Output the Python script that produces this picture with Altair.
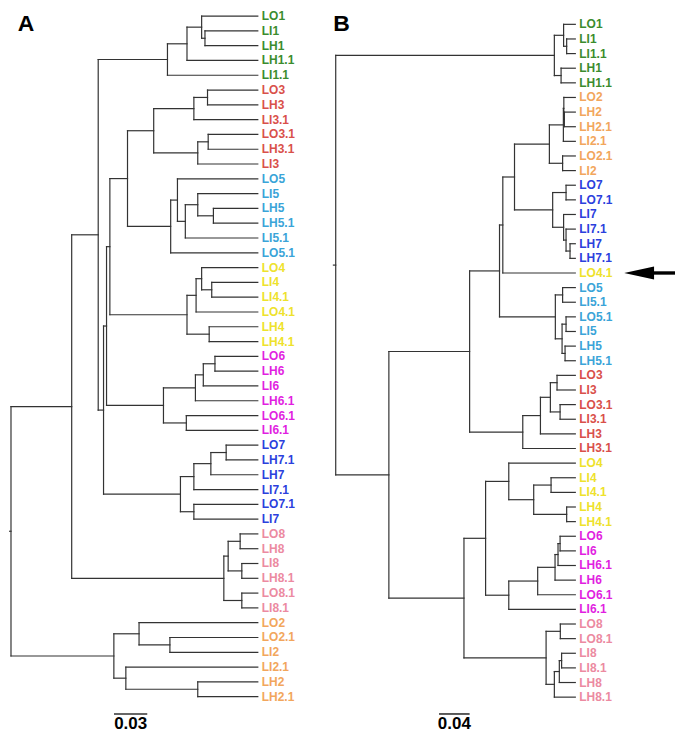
import altair as alt
import pandas as pd

# ---------------- data: panel A ----------------
leaves_A = ["LO1", "LI1", "LH1", "LH1.1", "LI1.1",
            "LO3", "LH3", "LI3.1", "LO3.1", "LH3.1", "LI3",
            "LO5", "LI5", "LH5", "LH5.1", "LI5.1", "LO5.1",
            "LO4", "LI4", "LI4.1", "LO4.1", "LH4", "LH4.1",
            "LO6", "LH6", "LI6", "LH6.1", "LO6.1", "LI6.1",
            "LO7", "LH7.1", "LH7", "LI7.1", "LO7.1", "LI7",
            "LO8", "LH8", "LI8", "LH8.1", "LO8.1", "LI8.1",
            "LO2", "LO2.1", "LI2", "LI2.1", "LH2", "LH2.1"]

# internal nodes: (name, distance from root, children)
nodes_A = [
    ("g1", 0.1748, ["LI1", "LH1"]), ("g2", 0.1718, ["LO1", "g1"]),
    ("g3", 0.1586, ["g2", "LH1.1"]), ("g", 0.1410, ["g3", "LI1.1"]),
    ("r1", 0.1771, ["LO3", "LH3"]), ("r2", 0.1648, ["r1", "LI3.1"]),
    ("r3", 0.1777, ["LO3.1", "LH3.1"]), ("r4", 0.1683, ["r3", "LI3"]),
    ("r", 0.1286, ["r2", "r4"]),
    ("c1", 0.1824, ["LH5", "LH5.1"]), ("c2", 0.1683, ["LI5", "c1"]),
    ("c3", 0.1571, ["c2", "LI5.1"]), ("c4", 0.1500, ["LO5", "c3"]),
    ("c", 0.1439, ["c4", "LO5.1"]),
    ("u", 0.1050, ["r", "c"]),
    ("y1", 0.1809, ["LI4", "LI4.1"]), ("y2", 0.1718, ["LO4", "y1"]),
    ("y3", 0.1668, ["y2", "LO4.1"]), ("y4", 0.1786, ["LH4", "LH4.1"]),
    ("y", 0.1586, ["y3", "y4"]),
    ("v", 0.0891, ["u", "y"]),
    ("m1", 0.1838, ["LO6", "LH6"]), ("m2", 0.1733, ["m1", "LI6"]),
    ("m3", 0.1662, ["m2", "LH6.1"]), ("m4", 0.1580, ["LO6.1", "LI6.1"]),
    ("m", 0.1374, ["m3", "m4"]),
    ("w", 0.0861, ["v", "m"]),
    ("b1", 0.1939, ["LO7", "LH7.1"]), ("b2", 0.1801, ["b1", "LH7"]),
    ("b3", 0.1648, ["b2", "LI7.1"]), ("b4", 0.1648, ["LO7.1", "LI7"]),
    ("b", 0.1527, ["b3", "b4"]),
    ("z", 0.0834, ["w", "b"]),
    ("gz", 0.0786, ["g", "z"]),
    ("p1", 0.2065, ["LO8", "LH8"]), ("p2", 0.2080, ["LI8", "LH8.1"]),
    ("p3", 0.1957, ["p1", "p2"]), ("p4", 0.2080, ["LO8.1", "LI8.1"]),
    ("p", 0.1918, ["p3", "p4"]),
    ("x", 0.0547, ["gz", "p"]),
    ("o1", 0.1432, ["LO2.1", "LI2"]), ("o2", 0.1154, ["LO2", "o1"]),
    ("o3", 0.1683, ["LH2", "LH2.1"]), ("o4", 0.1035, ["LI2.1", "o3"]),
    ("o", 0.0927, ["o2", "o4"]),
    ("root", 0.0, ["x", "o"]),
]
tip_A = 0.2224
scalebar_A = [0.0928, 0.03]   # start, length
label_A = "0.03"

# ---------------- data: panel B ----------------
leaves_B = ["LO1", "LI1", "LI1.1", "LH1", "LH1.1",
            "LO2", "LH2", "LH2.1", "LI2.1", "LO2.1", "LI2",
            "LO7", "LO7.1", "LI7", "LI7.1", "LH7", "LH7.1",
            "LO4.1",
            "LO5", "LI5.1", "LO5.1", "LI5", "LH5", "LH5.1",
            "LO3", "LI3", "LO3.1", "LI3.1", "LH3", "LH3.1",
            "LO4", "LI4", "LI4.1", "LH4", "LH4.1",
            "LO6", "LI6", "LH6.1", "LH6", "LO6.1", "LI6.1",
            "LO8", "LO8.1", "LI8", "LI8.1", "LH8", "LH8.1"]

nodes_B = [
    ("g1", 0.3020, ["LI1", "LI1.1"]), ("g2", 0.2980, ["LO1", "g1"]),
    ("g3", 0.2947, ["LH1", "LH1.1"]), ("g", 0.2859, ["g2", "g3"]),
    ("o1", 0.2990, ["LH2", "LH2.1"]), ("o2", 0.2983, ["LO2", "o1"]),
    ("o3", 0.2977, ["o2", "LI2.1"]), ("o4", 0.2967, ["LO2.1", "LI2"]),
    ("o", 0.2794, ["o3", "o4"]),
    ("b1", 0.3012, ["LO7", "LO7.1"]), ("b2", 0.3064, ["LH7", "LH7.1"]),
    ("b3", 0.3012, ["LI7.1", "b2"]), ("b4", 0.2980, ["LI7", "b3"]),
    ("b", 0.2837, ["b1", "b4"]),
    ("ob", 0.2338, ["o", "b"]),
    ("obl", 0.2185, ["ob", "LO4.1"]),
    ("c1", 0.2967, ["LO5", "LI5.1"]), ("c2", 0.3012, ["LO5.1", "LI5"]),
    ("c3", 0.2999, ["LH5", "LH5.1"]), ("c4", 0.2960, ["c2", "c3"]),
    ("c", 0.2872, ["c1", "c4"]),
    ("oblc", 0.2142, ["obl", "c"]),
    ("r1", 0.2894, ["LO3", "LI3"]), ("r2", 0.2934, ["LO3.1", "LI3.1"]),
    ("r3", 0.2807, ["r1", "r2"]), ("r4", 0.2677, ["r3", "LH3"]),
    ("r", 0.2446, ["r4", "LH3.1"]),
    ("q", 0.1751, ["oblc", "r"]),
    ("y1", 0.2816, ["LI4", "LI4.1"]), ("y2", 0.3020, ["LH4", "LH4.1"]),
    ("y3", 0.2589, ["y1", "y2"]), ("y", 0.2263, ["LO4", "y3"]),
    ("m1", 0.2934, ["LO6", "LI6"]), ("m2", 0.2907, ["m1", "LH6.1"]),
    ("m3", 0.2868, ["m2", "LH6"]), ("m4", 0.2641, ["m3", "LO6.1"]),
    ("m", 0.2263, ["m4", "LI6.1"]),
    ("ym", 0.1960, ["y", "m"]),
    ("p1", 0.2937, ["LO8", "LO8.1"]), ("p2", 0.2954, ["LI8", "LI8.1"]),
    ("p3", 0.2924, ["p2", "LH8"]), ("p4", 0.2859, ["p3", "LH8.1"]),
    ("p", 0.2751, ["p1", "p4"]),
    ("ymp", 0.1677, ["ym", "p"]),
    ("s", 0.0695, ["q", "ymp"]),
    ("root", 0.0, ["g", "s"]),
]
tip_B = 0.3133
scalebar_B = [0.1351, 0.04]
label_B = "0.04"
arrow_leaf = "LO4.1"
arrow_x = [0.3772, 0.4110, 0.4437]   # tip, shaft start, tail

groups = ["1", "2", "3", "4", "5", "6", "7", "8"]
group_colors = ["#3b8c2e", "#f2a65c", "#d9504a", "#eee22c",
                "#3aa4d8", "#e11fe1", "#2b40dd", "#ec8aa1"]

LINE = "#333333"
FONT = "Liberation Sans"
H = 726


def build(leaves, nodes, tip, stub):
    pos = {n: i for i, n in enumerate(leaves)}
    depth = {n: tip for n in leaves}
    segs = []
    for name, d, kids in nodes:
        depth[name] = d
        ys = [pos[k] for k in kids]
        pos[name] = (min(ys) + max(ys)) / 2
        segs.append(dict(x=d, x2=d, y=min(ys), y2=max(ys)))
        for k in kids:
            segs.append(dict(x=d, x2=depth[k], y=pos[k], y2=pos[k]))
    root = nodes[-1][0]
    segs.append(dict(x=-stub, x2=0.0, y=pos[root], y2=pos[root]))
    labs = pd.DataFrame(dict(name=leaves, y=list(range(len(leaves))),
                             x=[tip] * len(leaves),
                             grp=[n[2] for n in leaves]))
    return pd.DataFrame(segs), labs, pos


def panel(leaves, nodes, tip, stub, xdom, ydom, width, letter, letter_xy,
          bar, bar_label, arrow=None):
    segs, labs, pos = build(leaves, nodes, tip, stub)
    xs = alt.Scale(domain=xdom, nice=False, zero=False)
    ys = alt.Scale(domain=ydom, nice=False, zero=False, reverse=True)
    X = alt.X("x:Q", scale=xs, axis=None)
    Y = alt.Y("y:Q", scale=ys, axis=None)

    tree = alt.Chart(segs).mark_rule(color=LINE, strokeWidth=1.2,
                                     strokeCap="square").encode(
        x=X, x2="x2:Q", y=Y, y2="y2:Q")

    text = alt.Chart(labs).mark_text(align="left", baseline="middle", dx=4,
                                     font=FONT, fontSize=12,
                                     fontWeight="bold").encode(
        x=X, y=Y, text="name:N",
        color=alt.Color("grp:N", scale=alt.Scale(domain=groups, range=group_colors),
                        legend=None))

    let = alt.Chart(pd.DataFrame({"t": [letter]})).mark_text(
        align="left", baseline="middle", font=FONT, fontSize=23,
        fontWeight="bold", color="black").encode(
        x=alt.value(letter_xy[0]), y=alt.value(letter_xy[1]), text="t:N")

    bdf = pd.DataFrame({"x": [bar[0]], "x2": [bar[0] + bar[1]],
                        "xm": [bar[0] + bar[1] / 2], "t": [bar_label]})
    barm = alt.Chart(bdf).mark_rule(color=LINE, strokeWidth=1.6).encode(
        x=X, x2="x2:Q", y=alt.value(707))
    bart = alt.Chart(bdf).mark_text(baseline="middle", align="center", font=FONT,
                                    fontSize=17, fontWeight="bold",
                                    color="black").encode(
        x=alt.X("xm:Q", scale=xs, axis=None), y=alt.value(717.5), text="t:N")

    layers = [tree, text, let, barm, bart]
    if arrow is not None:
        leaf, ax = arrow
        adf = pd.DataFrame({"x": [ax[0]], "xs": [ax[1]], "xe": [ax[2]],
                            "y": [pos[leaf]]})
        shaft = alt.Chart(adf).mark_rule(color="black", strokeWidth=3.4).encode(
            x=alt.X("xs:Q", scale=xs, axis=None), x2="xe:Q", y=Y)
        head = alt.Chart(adf).mark_point(
            shape="M 0 0 L 2 -0.44 L 2 0.44 Z", size=900, filled=True,
            color="black", opacity=1, strokeWidth=0).encode(x=X, y=Y)
        layers += [shaft, head]
    return alt.layer(*layers).properties(width=width, height=H)


A = panel(leaves_A, nodes_A, tip_A, 0.0012,
          [-0.001797, 0.27852], [-0.4717, 48.450], 312, "A", (8.7, 15.3),
          scalebar_A, label_A)
B = panel(leaves_B, nodes_B, tip_B, 0.003,
          [-0.02047, 0.44498], [-1.043, 48.446], 357, "B", (13.3, 15.3),
          scalebar_B, label_B, arrow=(arrow_leaf, arrow_x))

chart = alt.hconcat(A, B, spacing=0).properties(
    padding=0, background="white").configure_view(strokeWidth=0, stroke="transparent")

chart.save("out.html", embed_options={"renderer": "svg", "actions": False})
